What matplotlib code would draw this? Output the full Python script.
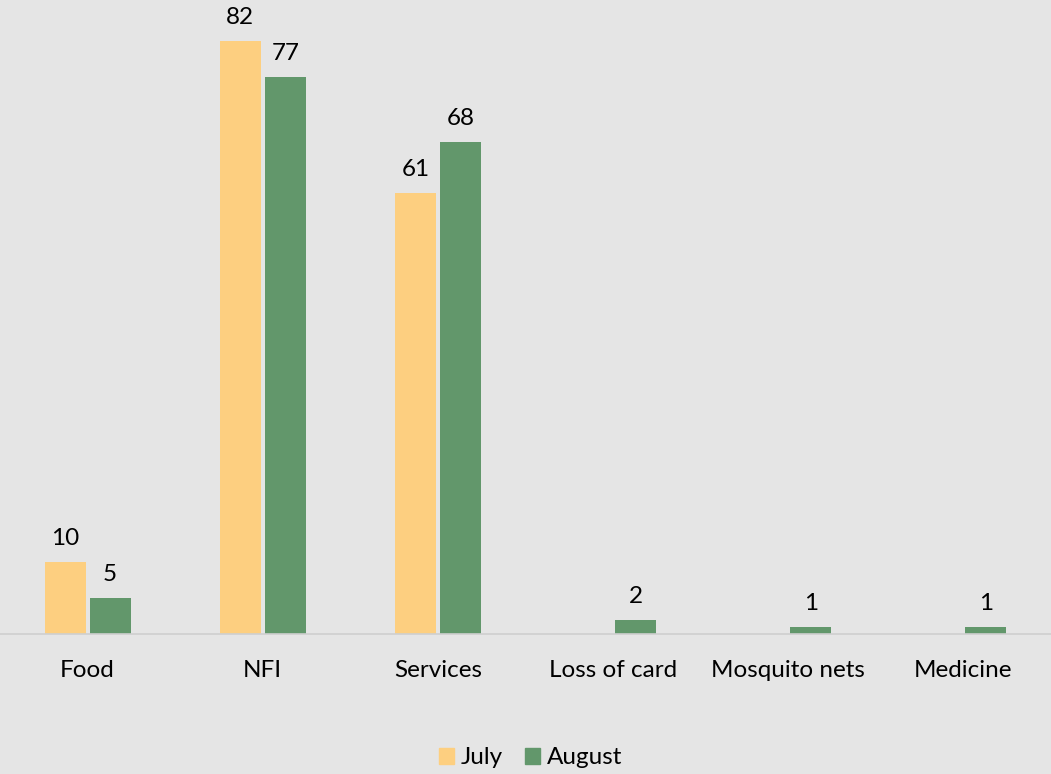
import numpy as np
import matplotlib.pyplot as plt
from matplotlib.patches import Patch

plt.rcParams['font.family'] = ['Lato', 'DejaVu Sans']

categories = ['Food', 'NFI', 'Services', 'Loss of card', 'Mosquito nets', 'Medicine']
july = [10, 82, 61, np.nan, np.nan, np.nan]
august = [5, 77, 68, 2, 1, 1]

BG = '#e5e5e5'
JULY_COLOR = '#fdcf80'
AUG_COLOR = '#62976b'
FS = 17.5

fig = plt.figure(figsize=(10.51, 7.74), dpi=100, facecolor=BG)
ax = fig.add_axes([0, 140 / 774, 1, 634 / 774], facecolor=BG)

x = np.arange(len(categories))
w = 0.234
gap = 0.023

bars_j = ax.bar(x - (w + gap) / 2, july, width=w, color=JULY_COLOR)
bars_a = ax.bar(x + (w + gap) / 2, august, width=w, color=AUG_COLOR)

# value labels above bars (skip missing July values)
for bars, vals in [(bars_j, july), (bars_a, august)]:
    for b, v in zip(bars, vals):
        if np.isnan(v):
            continue
        ax.annotate(f'{v:g}', (b.get_x() + b.get_width() / 2, v),
                    xytext=(0, 9), textcoords='offset points',
                    ha='center', va='bottom', fontsize=FS, color='#000000')

ax.set_xlim(-0.5, len(categories) - 0.5)
ax.set_ylim(0, 87.6)
ax.set_yticks([])
ax.set_xticks(x)
ax.set_xticklabels(categories, fontsize=FS, color='#000000')
ax.tick_params(axis='x', length=0, pad=19)

for s in ['top', 'left', 'right']:
    ax.spines[s].set_visible(False)
ax.spines['bottom'].set_color('#cfcfcf')
ax.spines['bottom'].set_linewidth(1.2)

handles = [Patch(color=JULY_COLOR, label='July'), Patch(color=AUG_COLOR, label='August')]
fig.legend(handles=handles, loc='center', bbox_to_anchor=(0.505, 1 - 758 / 774),
           ncol=2, frameon=False, fontsize=FS, handlelength=0.6, handleheight=0.6,
           handletextpad=0.3, columnspacing=0.9)

fig.savefig('out.png', dpi=100, facecolor=BG)
